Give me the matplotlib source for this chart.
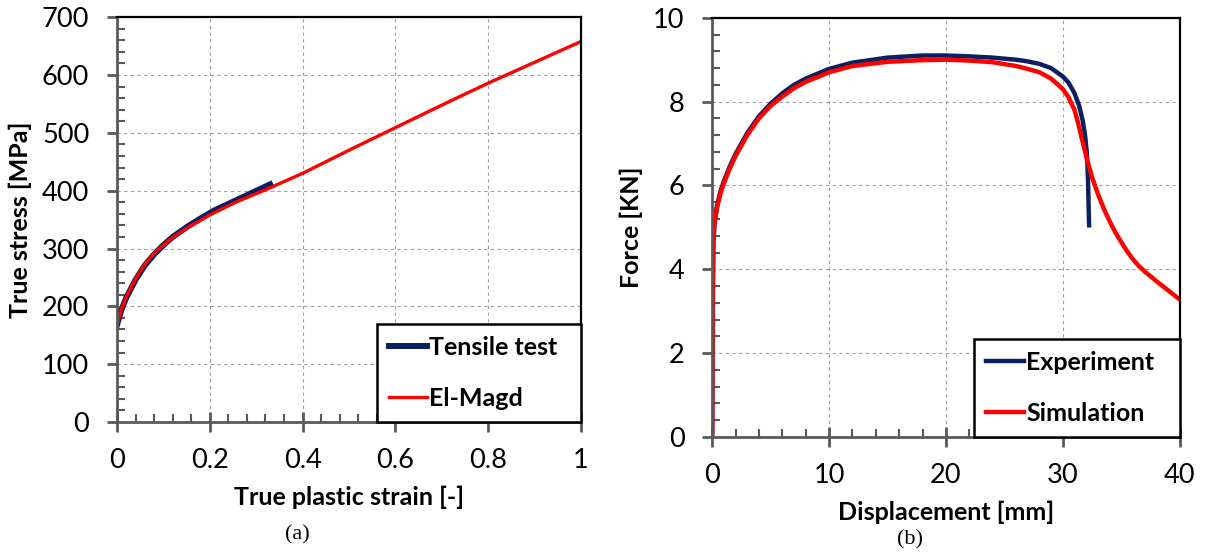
import matplotlib
matplotlib.use("Agg")
from matplotlib import pyplot as plt
from matplotlib.ticker import MultipleLocator

# (a) true stress vs true plastic strain
strain_test = [0, 0.01, 0.02, 0.04, 0.06, 0.08, 0.10, 0.12, 0.15, 0.18, 0.21, 0.25, 0.29, 0.33]
stress_test = [168, 195, 215, 246, 271, 290, 306, 320, 337, 352, 366, 381, 396, 411]
strain_magd = [0, 0.01, 0.02, 0.04, 0.06, 0.08, 0.10, 0.12, 0.15, 0.2, 0.25, 0.33,
               0.4, 0.5, 0.6, 0.7, 0.8, 0.9, 1.0]
stress_magd = [168, 196, 216, 248, 273, 292, 306, 319, 335, 358, 378, 405,
               430, 470, 509, 548, 586, 622, 658]

# (b) force vs displacement
disp_exp = [0, 0.05, 0.1, 0.2, 0.4, 0.7, 1, 1.5, 2, 3, 4, 5, 6, 7, 8, 10, 12, 15, 18,
            20, 22, 24, 26, 27, 28, 29, 30, 30.5, 31, 31.4, 31.7, 31.9, 32.05, 32.15,
            32.2, 32.25]
force_exp = [0, 3.0, 4.6, 5.1, 5.5, 5.85, 6.1, 6.45, 6.75, 7.25, 7.65, 7.95, 8.2, 8.4, 8.55,
             8.78, 8.93, 9.05, 9.1, 9.1, 9.08, 9.05, 9.0, 8.96, 8.9, 8.8, 8.6, 8.45, 8.2,
             7.9, 7.55, 7.2, 6.8, 6.2, 5.6, 5.05]
disp_sim = [0, 0.05, 0.1, 0.2, 0.4, 0.7, 1, 1.5, 2, 3, 4, 5, 6, 7, 8, 10, 12, 15, 18, 20,
            22, 24, 26, 27, 28, 29, 30, 30.5, 31, 31.3, 31.6, 32, 32.5, 33, 33.5, 34, 34.5,
            35, 35.5, 36, 36.5, 37, 38, 39, 40]
force_sim = [0, 3.5, 4.7, 5.1, 5.45, 5.8, 6.05, 6.4, 6.7, 7.2, 7.6, 7.9, 8.12, 8.32, 8.47,
             8.7, 8.85, 8.95, 8.99, 9.0, 8.98, 8.94, 8.85, 8.78, 8.7, 8.55, 8.3, 8.1, 7.8,
             7.5, 7.15, 6.7, 6.2, 5.8, 5.45, 5.15, 4.88, 4.65, 4.43, 4.24, 4.08, 3.95,
             3.72, 3.5, 3.28]

NAVY = "#0b2060"
RED = "#ff0000"
GRAY = "#595959"
FONT = "Lato"

fig = plt.figure(figsize=(12.05, 5.56), dpi=100)
ax1 = fig.add_axes([0.0971, 0.241, 0.385, 0.728])
ax2 = fig.add_axes([0.591, 0.214, 0.388, 0.754])


def style(ax, xmaj, xmin, ymaj, ymin):
    ax.xaxis.set_major_locator(MultipleLocator(xmaj))
    ax.xaxis.set_minor_locator(MultipleLocator(xmin))
    ax.yaxis.set_major_locator(MultipleLocator(ymaj))
    ax.yaxis.set_minor_locator(MultipleLocator(ymin))
    ax.grid(True, which="major", color="#a0a0a0", linestyle=(0, (3, 3)), linewidth=0.8)
    for s in ("left", "bottom"):
        ax.spines[s].set_color(GRAY)
        ax.spines[s].set_linewidth(2)
    for s in ("top", "right"):
        ax.spines[s].set_color("black")
        ax.spines[s].set_linewidth(1.6)
    ax.tick_params(axis="y", which="major", direction="out", length=7, width=2,
                   color=GRAY, pad=13, labelsize=19.5)
    ax.tick_params(axis="y", which="minor", direction="in", length=6, width=1.5, color=GRAY)
    ax.tick_params(axis="x", which="major", direction="inout", length=14, width=2,
                   color=GRAY, pad=12, labelsize=19.5)
    ax.tick_params(axis="x", which="minor", direction="in", length=6, width=1.5, color=GRAY)


def finish_labels(ax):
    for lab in ax.get_xticklabels() + ax.get_yticklabels():
        lab.set_fontfamily(FONT)


def legend(ax):
    leg = ax.legend(loc="lower left", bbox_to_anchor=(0.56, 0.0, 0.44, 0.25), mode="expand",
                    borderaxespad=0, fancybox=False, edgecolor="black", framealpha=1,
                    handlelength=1.5, handletextpad=0.1, labelspacing=1.1, borderpad=0.5,
                    prop={"family": FONT, "weight": "bold", "size": 18})
    leg.get_frame().set_linewidth(1.8)
    return leg


# --- (a)
ax1.plot(strain_test, stress_test, color=NAVY, lw=4.3, label="Tensile test")
ax1.plot(strain_magd, stress_magd, color=RED, lw=2.4, label="El-Magd")
ax1.set_xlim(0, 1)
ax1.set_ylim(0, 700)
style(ax1, 0.2, 0.04, 100, 20)
ax1.set_xticks([0, 0.2, 0.4, 0.6, 0.8, 1.0], ["0", "0.2", "0.4", "0.6", "0.8", "1"])
finish_labels(ax1)
ax1.set_xlabel("True plastic strain [-]", fontsize=18, fontweight="bold", family=FONT, labelpad=9)
ax1.set_ylabel("True stress [MPa]", fontsize=18, fontweight="bold", family=FONT, labelpad=7)
legend(ax1)
fig.text(0.247, 0.038, "(a)", fontsize=16, family="Liberation Serif", ha="center", va="center")

# --- (b)
ax2.plot(disp_exp, force_exp, color=NAVY, lw=3.2, label="Experiment")
ax2.plot(disp_sim, force_sim, color=RED, lw=3.2, label="Simulation")
ax2.set_xlim(0, 40)
ax2.set_ylim(0, 10)
style(ax2, 10, 2, 2, 0.4)
finish_labels(ax2)
ax2.set_xlabel("Displacement [mm]", fontsize=18, fontweight="bold", family=FONT, labelpad=9)
ax2.set_ylabel("Force [KN]", fontsize=18, fontweight="bold", family=FONT, labelpad=7)
legend(ax2)
fig.text(0.755, 0.029, "(b)", fontsize=16, family="Liberation Serif", ha="center", va="center")

fig.savefig("out.png", dpi=100)
